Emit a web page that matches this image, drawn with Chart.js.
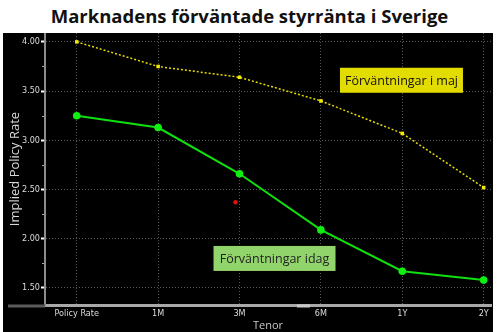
<!DOCTYPE html>
<html>
<head>
<meta charset="utf-8">
<script src="https://cdn.jsdelivr.net/npm/chart.js@4.4.1/dist/chart.umd.min.js"></script>
<style>
  body { margin: 0; background: #fff; width: 499px; height: 332px; overflow: hidden; }
  #title { position: absolute; left: 0; top: 3px; width: 499px; text-align: center;
           font: bold 18.5px "Open Sans", sans-serif; color: #111; }
  #box { position: absolute; left: 3px; top: 33px; width: 490px; height: 299px; background: #000; }
</style>
</head>
<body>
<div id="title">Marknadens förväntade styrränta i Sverige</div>
<div id="box"><canvas id="myChart" width="490" height="299"></canvas></div>
<script>
const tenors = ['Policy Rate', '1M', '3M', '6M', '1Y', '2Y'];
const idag = [3.25, 3.13, 2.66, 2.09, 1.67, 1.58];
const maj = [4.00, 3.75, 3.64, 3.40, 3.07, 2.52];
const strayPoint = [{x: 1.95, y: 2.37}];
const yTicks = [1.50, 2.00, 2.50, 3.00, 3.50, 4.00];

const labelBoxes = [
  {text: 'Förväntningar i maj', x: 3.99, y: 3.61, w: 123, h: 25, fill: '#e3dc00', color: '#111'},
  {text: 'Förväntningar idag', x: 2.43, y: 1.80, w: 122, h: 25, fill: '#92d46c', color: '#222'}
];

function toPoints(arr) {
  return arr.map((v, i) => ({x: i, y: v}));
}

const extras = {
  id: 'extras',
  afterDraw(chart) {
    const ctx = chart.ctx;
    const xs = chart.scales.x, ys = chart.scales.y;
    const a = chart.chartArea;
    ctx.save();
    // minor ticks
    ctx.strokeStyle = '#aaa';
    ctx.lineWidth = 1;
    for (let v = 1.75; v < 4.1; v += 0.5) {
      const py = Math.round(ys.getPixelForValue(v)) + 0.5;
      ctx.beginPath(); ctx.moveTo(a.left - 3, py); ctx.lineTo(a.left - 1, py); ctx.stroke();
    }
    // left stub of bottom axis
    ctx.strokeStyle = '#5a5a5a';
    ctx.lineWidth = 3;
    ctx.beginPath(); ctx.moveTo(5, a.bottom + 1); ctx.lineTo(a.left, a.bottom + 1); ctx.stroke();
    ctx.strokeStyle = '#c8c8c8';
    ctx.beginPath(); ctx.moveTo(a.left + 252, a.bottom + 1); ctx.lineTo(a.left + 265, a.bottom + 1); ctx.stroke();
    // labels
    ctx.font = '12.5px "Open Sans", sans-serif';
    ctx.textAlign = 'center';
    ctx.textBaseline = 'middle';
    labelBoxes.forEach(b => {
      const cx = xs.getPixelForValue(b.x), cy = ys.getPixelForValue(b.y);
      ctx.fillStyle = b.fill;
      ctx.fillRect(cx - b.w / 2, cy - b.h / 2, b.w, b.h);
      ctx.fillStyle = b.color;
      ctx.fillText(b.text, cx, cy + 1);
    });
    ctx.restore();
  }
};

new Chart('myChart', {
  type: 'line',
  data: {
    datasets: [{
      label: 'maj',
      data: toPoints(maj),
      borderColor: '#e6dc00',
      backgroundColor: '#f2ea00',
      borderWidth: 1.5,
      borderDash: [2, 2],
      pointStyle: 'rect',
      pointRadius: 2.5,
      pointBorderWidth: 0,
      fill: false
    }, {
      label: 'idag',
      data: toPoints(idag),
      borderColor: '#10e010',
      backgroundColor: '#10f010',
      borderWidth: 2,
      pointRadius: 3.8,
      pointBorderWidth: 0,
      fill: false
    }, {
      label: 'stray',
      data: strayPoint,
      showLine: false,
      backgroundColor: '#e01010',
      pointRadius: 2.2,
      pointBorderWidth: 0
    }]
  },
  options: {
    responsive: false,
    animation: false,
    layout: {autoPadding: false, padding: {left: 0, right: 2, top: 0, bottom: 0}},
    plugins: {legend: {display: false}, tooltip: {enabled: false}},
    scales: {
      x: {
        type: 'linear',
        min: -0.39,
        max: 5.09,
        afterFit(s) { s.height = 27; s.paddingLeft = 0; s.paddingRight = 0; },
        ticks: {
          stepSize: 1,
          includeBounds: false,
          autoSkip: false,
          maxRotation: 0,
          padding: 3,
          color: '#dcdcdc',
          font: {family: '"Liberation Sans Narrow", "DejaVu Sans Condensed", sans-serif', size: 9},
          callback: v => tenors[v]
        },
        grid: {color: '#5a5a5a', drawTicks: false, tickLength: 0},
        border: {color: '#a8a8a8', width: 3, dash: [1, 2]},
        title: {display: true, text: 'Tenor', color: '#c8c8c8', padding: {top: 0, bottom: 0},
                font: {family: '"Open Sans", sans-serif', size: 11}}
      },
      y: {
        min: 1.327,
        max: 4.09,
        afterFit(s) { s.width = 42; s.paddingTop = 0; s.paddingBottom = 0; },
        afterBuildTicks(s) { s.ticks = yTicks.map(v => ({value: v})); },
        ticks: {
          padding: 1,
          color: '#dcdcdc',
          font: {family: '"Liberation Sans Narrow", "DejaVu Sans Condensed", sans-serif', size: 9},
          callback: v => v.toFixed(2)
        },
        grid: {color: '#5a5a5a', tickColor: '#ffffff', tickLength: 4, tickBorderDash: [], tickWidth: 2},
        border: {color: '#8c8c8c', width: 2, dash: [1, 2]},
        title: {display: true, text: 'Implied Policy Rate', color: '#d8d8d8', padding: {top: 4, bottom: 0},
                font: {family: '"Open Sans", sans-serif', size: 13}}
      }
    }
  },
  plugins: [extras]
});
</script>
</body>
</html>
